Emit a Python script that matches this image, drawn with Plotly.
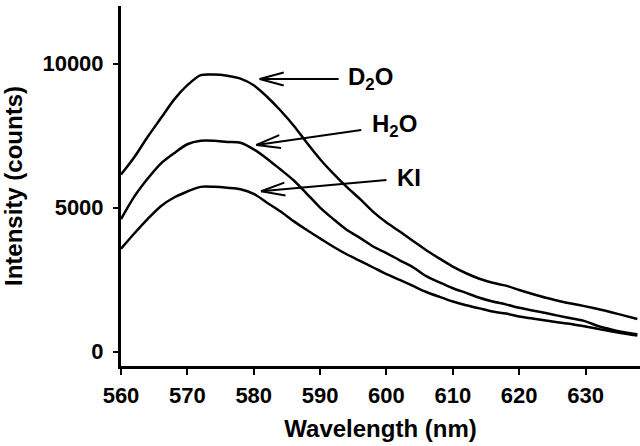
import plotly.graph_objects as go
import math

wavelength = [560, 562, 564, 566, 568, 570, 572, 574, 576, 578, 580, 582, 584, 586, 588,
              590, 592, 594, 596, 598, 600, 602, 604, 606, 608, 610, 612, 614, 616, 618,
              620, 622, 624, 626, 628, 630, 632, 634, 636, 637.8]

d2o = [6150, 6750, 7450, 8100, 8750, 9250, 9600, 9620, 9580, 9480, 9250, 8850, 8380, 7850, 7250,
       6680, 6180, 5720, 5300, 4850, 4480, 4170, 3840, 3520, 3230, 2950, 2720, 2530, 2390, 2290,
       2140, 2000, 1870, 1760, 1660, 1570, 1470, 1360, 1240, 1130]

h2o = [4600, 5380, 6000, 6530, 6890, 7200, 7320, 7320, 7280, 7250, 7020, 6700, 6330, 5950, 5480,
       5000, 4600, 4230, 3950, 3650, 3420, 3170, 2930, 2620, 2400, 2200, 2040, 1870, 1740, 1640,
       1520, 1430, 1340, 1240, 1150, 1050, 880, 760, 660, 600]

ki = [3570, 4100, 4600, 5050, 5350, 5560, 5720, 5720, 5690, 5640, 5480, 5170, 4870, 4530, 4220,
      3930, 3640, 3380, 3150, 2920, 2690, 2490, 2280, 2070, 1900, 1740, 1610, 1500, 1390, 1320,
      1220, 1150, 1080, 1010, 950, 870, 780, 700, 620, 560]

x_ticks = [560, 570, 580, 590, 600, 610, 620, 630]
y_ticks = [0, 5000, 10000]

labels = ["D<sub>2</sub>O", "H<sub>2</sub>O", "KI"]
label_pos = [(593.9, 9480), (597.5, 7847), (601.3, 6041)]
arrow_heads = [(580.9, 9468), (580.4, 7177), (581.1, 5566)]
arrow_tails = [(592.8, 9468), (596.2, 7698), (600.0, 5962)]

X_RANGE = [560, 638.2]
Y_RANGE = [-500, 12000]
W, H = 640, 446
ML, MR, MT, MB = 121, 0, 6, 80
FONT = "Liberation Sans, Arial, sans-serif"

fig = go.Figure()
for name, ys in zip(["D2O", "H2O", "KI"], [d2o, h2o, ki]):
    fig.add_trace(go.Scatter(x=wavelength, y=ys, mode="lines", name=name,
                             line=dict(color="black", width=2.5, shape="spline", smoothing=0.8),
                             showlegend=False))

# pixel scale for drawing arrow barbs
pw = W - ML - MR
ph = H - MT - MB
sx = pw / (X_RANGE[1] - X_RANGE[0])
sy = ph / (Y_RANGE[1] - Y_RANGE[0])

shapes = []
for (hx, hy), (tx, ty) in zip(arrow_heads, arrow_tails):
    shapes.append(dict(type="line", xref="x", yref="y", x0=tx, y0=ty, x1=hx, y1=hy,
                       line=dict(color="black", width=2)))
    dxp = (tx - hx) * sx
    dyp = -(ty - hy) * sy
    ln = math.hypot(dxp, dyp)
    ux, uy = dxp / ln, dyp / ln
    L, Wd = 24, 6.5
    for s in (1, -1):
        bx = ux * L + s * (-uy) * Wd
        by = uy * L + s * ux * Wd
        shapes.append(dict(type="line", xref="x", yref="y", x0=hx, y0=hy,
                           x1=hx + bx / sx, y1=hy - by / sy,
                           line=dict(color="black", width=2)))

annotations = []
for t, (x, y) in zip(labels, label_pos):
    annotations.append(dict(x=x, y=y, xref="x", yref="y", text=t, showarrow=False,
                            xanchor="left", yanchor="middle",
                            font=dict(family=FONT, size=24, color="black", weight="bold")))

fig.update_layout(
    width=W, height=H,
    margin=dict(l=ML, r=MR, t=MT, b=MB, autoexpand=False),
    paper_bgcolor="white", plot_bgcolor="white",
    shapes=shapes, annotations=annotations,
    xaxis=dict(range=X_RANGE, tickmode="array", tickvals=x_ticks,
               ticktext=[str(v) for v in x_ticks], automargin=False,
               showline=True, linecolor="black", linewidth=3,
               ticks="outside", ticklen=6, tickwidth=2, tickcolor="black",
               showgrid=False, zeroline=False, ticklabelstandoff=2,
               tickfont=dict(family=FONT, size=22, color="black", weight="bold"),
               title=dict(text="Wavelength (nm)", standoff=13,
                          font=dict(family=FONT, size=24, color="black", weight="bold"))),
    yaxis=dict(range=Y_RANGE, tickmode="array", tickvals=y_ticks,
               ticktext=[str(v) for v in y_ticks], automargin=False,
               showline=True, linecolor="black", linewidth=3,
               ticks="outside", ticklen=5, tickwidth=2, tickcolor="black",
               showgrid=False, zeroline=False, ticklabelstandoff=5,
               tickfont=dict(family=FONT, size=22, color="black", weight="bold"),
               title=dict(text="Intensity (counts)", standoff=21,
                          font=dict(family=FONT, size=24, color="black", weight="bold"))),
)

fig.write_html("out.html", config={"displayModeBar": False},
               post_script="document.body.style.margin='0';document.body.style.padding='0';")
